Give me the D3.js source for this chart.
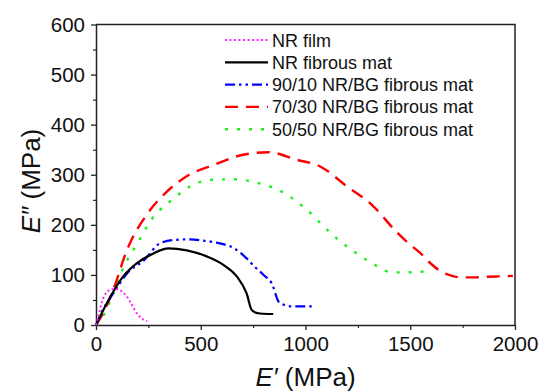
<!DOCTYPE html>
<html>
<head>
<meta charset="utf-8">
<script src="https://cdn.jsdelivr.net/npm/d3@7"></script>
<style>
  body { margin: 0; background: #fff; }
  text { font-family: "Liberation Sans", Arial, sans-serif; fill: #111; }
</style>
</head>
<body>
<script>
// E' (x) and E'' (y) in MPa
var nrFilmX = [0, 10, 20, 30, 45, 65, 95, 120, 145, 165, 185, 205, 225, 245];
var nrFilmY = [0, 15, 32, 48, 62, 70, 72, 68, 58, 45, 30, 18, 11, 8];

var nrMatX = [0, 35, 83, 130, 194, 274, 346, 433, 528, 608, 672, 719, 743, 760, 783, 846];
var nrMatY = [0, 30, 67, 97, 123, 143, 153, 149, 137, 120, 97, 63, 30, 25, 23, 22];

var bg90X = [0, 33, 82, 148, 231, 305, 380, 449, 520, 592, 660, 719, 758, 800, 839, 873, 900, 940, 1031];
var bg90Y = [0, 30, 63, 103, 130, 163, 170, 171, 168, 163, 153, 133, 116, 100, 83, 46, 40, 37, 37];

var bg70X = [0, 33, 82, 148, 247, 330, 445, 559, 702, 822, 958, 1072, 1197, 1319, 1434, 1489, 1547, 1600, 1645, 1700, 1750, 1800, 1850, 1920, 1990];
var bg70Y = [0, 23, 70, 150, 223, 263, 300, 319, 340, 345, 330, 316, 277, 239, 186, 164, 144, 122, 107, 98, 95, 95, 96, 97, 98];

var bg50X = [0, 33, 82, 132, 198, 264, 363, 478, 560, 654, 797, 869, 1006, 1121, 1220, 1319, 1402, 1459, 1537, 1594];
var bg50Y = [0, 17, 63, 116, 163, 210, 250, 283, 290, 291, 281, 270, 230, 183, 150, 123, 106, 105, 106, 108];

var seriesNames = ["NR film", "NR fibrous mat", "90/10 NR/BG fibrous mat", "70/30 NR/BG fibrous mat", "50/50 NR/BG fibrous mat"];
var xTicks = [0, 500, 1000, 1500, 2000];
var yTicks = [0, 100, 200, 300, 400, 500, 600];

var width = 541, height = 391;
var margin = {left: 96, right: 26, top: 24.5, bottom: 66};

var svg = d3.select("body").append("svg")
    .attr("width", width)
    .attr("height", height);

var x = d3.scaleLinear().domain([0, 2000]).range([margin.left, width - margin.right]);
var y = d3.scaleLinear().domain([0, 600]).range([height - margin.bottom, margin.top]);

// minor ticks
svg.append("g")
    .attr("transform", "translate(0," + y(0) + ")")
    .call(d3.axisBottom(x).tickValues(d3.range(250, 2000, 500)).tickSize(3).tickFormat(""))
    .call(function (g) { g.select(".domain").remove(); });
svg.append("g")
    .attr("transform", "translate(" + x(0) + ",0)")
    .call(d3.axisLeft(y).tickValues(d3.range(50, 600, 100)).tickSize(3).tickFormat(""))
    .call(function (g) { g.select(".domain").remove(); });

// major axes
var xAxis = svg.append("g")
    .attr("transform", "translate(0," + y(0) + ")")
    .call(d3.axisBottom(x).tickValues(xTicks).tickFormat(d3.format("d")).tickSize(5).tickSizeOuter(0).tickPadding(6));
var yAxis = svg.append("g")
    .attr("transform", "translate(" + x(0) + ",0)")
    .call(d3.axisLeft(y).tickValues(yTicks).tickFormat(d3.format("d")).tickSize(5).tickSizeOuter(0).tickPadding(6));

[xAxis, yAxis].forEach(function (g) {
    g.selectAll("text").style("font-size", "20.5px").style("font-family", "Liberation Sans, Arial, sans-serif").attr("fill", "#111");
    g.selectAll("line").attr("stroke", "#222").attr("stroke-width", 1.3);
    g.select(".domain").attr("stroke", "#222").attr("stroke-width", 1.5);
});

// frame top and right
svg.append("path")
    .attr("d", "M" + x(0) + "," + y(600) + "H" + x(2000) + "V" + y(0))
    .attr("fill", "none")
    .attr("stroke", "#222")
    .attr("stroke-width", 1.5);

var styles = [
    {color: "#ff22ff", dash: "2,2.5", w: 2},
    {color: "#000000", dash: null, w: 2.2},
    {color: "#0000ff", dash: "10,4,2.5,4,2.5,4", w: 2.2},
    {color: "#ff0000", dash: "13,8", w: 2.4},
    {color: "#22ee22", dash: "3,9", w: 2.4}
];
var allX = [nrFilmX, nrMatX, bg90X, bg70X, bg50X];
var allY = [nrFilmY, nrMatY, bg90Y, bg70Y, bg50Y];

var line = d3.line()
    .x(function (d) { return x(d[0]); })
    .y(function (d) { return y(d[1]); });

// draw back to front
[4, 3, 2, 1, 0].forEach(function (i) {
    var pts = allX[i].map(function (v, k) { return [v, allY[i][k]]; });
    svg.append("path")
        .datum(pts)
        .attr("d", line.curve(i === 0 ? d3.curveCatmullRom : d3.curveMonotoneX))
        .attr("fill", "none")
        .attr("stroke", styles[i].color)
        .attr("stroke-width", styles[i].w)
        .attr("stroke-dasharray", styles[i].dash);
});

// legend
var leg = svg.append("g");
seriesNames.forEach(function (name, i) {
    var cy = 40 + i * 22.3;
    leg.append("line")
        .attr("x1", 225).attr("x2", 268)
        .attr("y1", cy).attr("y2", cy)
        .attr("stroke", styles[i].color)
        .attr("stroke-width", styles[i].w)
        .attr("stroke-dasharray", styles[i].dash);
    leg.append("text")
        .attr("x", 272)
        .attr("y", cy + 6.5)
        .style("font-size", "18px")
        .text(name);
});

// axis titles
var xt = svg.append("text")
    .attr("x", (x(0) + x(2000)) / 2)
    .attr("y", 386)
    .attr("text-anchor", "middle")
    .style("font-size", "26px");
xt.append("tspan").style("font-style", "italic").text("E\u2032");
xt.append("tspan").text(" (MPa)");

var yt = svg.append("text")
    .attr("transform", "translate(40," + 181 + ") rotate(-90)")
    .attr("text-anchor", "middle")
    .style("font-size", "26px");
yt.append("tspan").style("font-style", "italic").text("E\u2033");
yt.append("tspan").text(" (MPa)");
</script>
</body>
</html>
